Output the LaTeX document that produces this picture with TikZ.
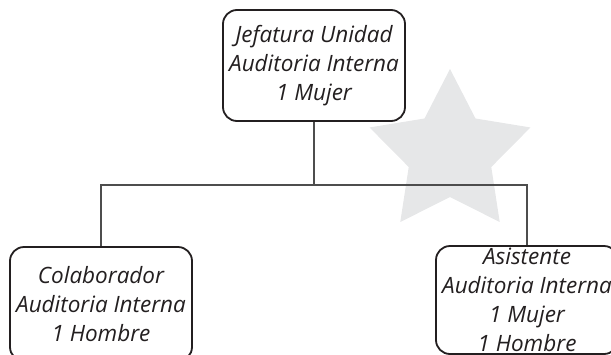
\documentclass[tikz,border=0pt]{standalone}
\usepackage{fontspec}
\setmainfont{Open Sans}
\definecolor{linecol}{HTML}{4D4D4D}
\definecolor{boxcol}{HTML}{231F20}
\definecolor{starcol}{HTML}{E6E7E8}
\definecolor{txtcol}{HTML}{231F20}
\tikzset{
  orgbox/.style={draw=boxcol, line width=1.8pt, rounded corners=14pt, fill=none,
    minimum width=182pt, inner xsep=0pt, inner ysep=0pt, align=center,
    text=txtcol, font=\itshape\fontsize{22.5}{29}\selectfont},
  conn/.style={draw=linecol, line width=1.2pt}
}
\begin{document}
\begin{tikzpicture}[x=1pt,y=-1pt]
\useasboundingbox (0,0) rectangle (611,354);
\clip (0,0) rectangle (611,354);
\fill[starcol, shift={(450,153.6)}] (270:84.6) -- (306:43.4) -- (342:84.6) -- (18:43.4) -- (54:84.6) -- (90:43.4) -- (126:84.6) -- (162:43.4) -- (198:84.6) -- (234:43.4) -- cycle;
\node[orgbox, minimum height=111pt] (top) at (314,65.5) {Jefatura Unidad\\Auditoria Interna\\1 Mujer};
\node[orgbox, minimum height=114pt] (left) at (101,304) {Colaborador\\Auditoria Interna\\1 Hombre};
\node[orgbox, minimum height=108pt] (right) at (527,300) {Asistente\\Auditoria Interna\\1 Mujer\\1 Hombre};
\coordinate (j) at (314,185);
\draw[conn] (top.south) -- (j);
\draw[conn] (left.north) |- (j) -| (right.north);
\end{tikzpicture}
\end{document}
